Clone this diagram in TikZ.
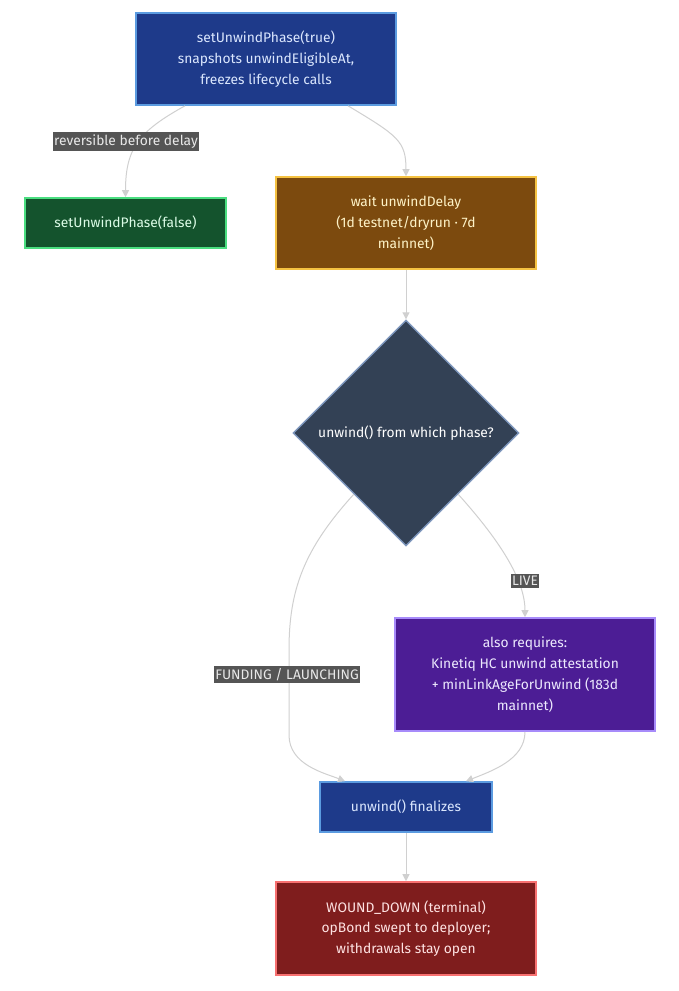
\documentclass[tikz,border=0pt]{standalone}
\usepackage{fontspec}
\setmainfont{Fira Sans}
\usetikzlibrary{shapes.geometric,arrows.meta,calc}
\definecolor{edgecol}{HTML}{D0D0D0}
\definecolor{lblbg}{HTML}{555555}
\definecolor{lbltx}{HTML}{E8E8E8}
\definecolor{HTML1E3A8A}{HTML}{1E3A8A}
\definecolor{HTML5B9BE0}{HTML}{5B9BE0}
\definecolor{HTMLDBE7FE}{HTML}{DBE7FE}
\definecolor{HTML14532D}{HTML}{14532D}
\definecolor{HTML4ADE80}{HTML}{4ADE80}
\definecolor{HTMLDCFCE7}{HTML}{DCFCE7}
\definecolor{HTML7C4A0E}{HTML}{7C4A0E}
\definecolor{HTMLF5C242}{HTML}{F5C242}
\definecolor{HTMLFEF3C7}{HTML}{FEF3C7}
\definecolor{HTML4C1D95}{HTML}{4C1D95}
\definecolor{HTMLA78BFA}{HTML}{A78BFA}
\definecolor{HTMLEDE9FE}{HTML}{EDE9FE}
\definecolor{HTML7F1D1D}{HTML}{7F1D1D}
\definecolor{HTMLF87171}{HTML}{F87171}
\definecolor{HTMLFEE2E2}{HTML}{FEE2E2}
\definecolor{HTML334155}{HTML}{334155}
\definecolor{HTML7E97BD}{HTML}{7E97BD}
\tikzset{
  base/.style={draw, line width=1.6pt, align=center, inner sep=0pt,
    font=\fontsize{13.8}{20.8}\selectfont},
  bluebox/.style={base, fill=HTML1E3A8A, draw=HTML5B9BE0, text=HTMLDBE7FE},
  greenbox/.style={base, fill=HTML14532D, draw=HTML4ADE80, text=HTMLDCFCE7},
  brownbox/.style={base, fill=HTML7C4A0E, draw=HTMLF5C242, text=HTMLFEF3C7},
  purplebox/.style={base, fill=HTML4C1D95, draw=HTMLA78BFA, text=HTMLEDE9FE},
  redbox/.style={base, fill=HTML7F1D1D, draw=HTMLF87171, text=HTMLFEE2E2},
  decision/.style={base, diamond, aspect=1, fill=HTML334155, draw=HTML7E97BD,
    text=white, minimum width=226pt, minimum height=226pt, line width=1.4pt},
  edgelbl/.style={fill=lblbg, text=lbltx, inner xsep=1pt, inner ysep=2.5pt,
    font=\fontsize{13.8}{15}\selectfont},
  conn/.style={draw=edgecol, line width=1pt, -{Triangle[length=7pt,width=7pt]}},
}
\begin{document}
\begin{tikzpicture}[x=1pt,y=-1pt]
\useasboundingbox[fill=white] (0,0) rectangle (679,991);

\node[bluebox, minimum width=260pt, minimum height=92pt] (A) at (266,59)
  {setUnwindPhase(true)\\snapshots unwindEligibleAt,\\freezes lifecycle calls};
\node[greenbox, minimum width=201pt, minimum height=50pt] (B) at (125.5,223)
  {setUnwindPhase(false)};
\node[brownbox, minimum width=260pt, minimum height=92pt] (C) at (406,223)
  {wait unwindDelay\\(1d testnet/dryrun · 7d\\mainnet)};
\node[decision] (D) at (406,433) {unwind() from which phase?};
\node[purplebox, minimum width=260pt, minimum height=113pt] (E) at (525,674.5)
  {also requires:\\Kinetiq HC unwind attestation\\+ minLinkAgeForUnwind (183d\\mainnet)};
\node[bluebox, minimum width=172pt, minimum height=50pt] (F) at (406,807)
  {unwind() finalizes};
\node[redbox, minimum width=260pt, minimum height=93pt] (G) at (406,928.5)
  {WOUND\_DOWN (terminal)\\opBond swept to deployer;\\withdrawals stay open};

% edges
\draw[conn] ([xshift=-81pt]A.south) .. controls +(-45,25) and +(0,-50) .. (B.north);
\draw[conn] ([xshift=82pt]A.south) .. controls +(50,30) and +(0,-35) .. (C.north);
\draw[conn] (C.south) -- (D.north);
\draw[conn] ($(D.south)!0.46!(D.west)$) .. controls +(-50,55) and +(0,-60) .. (289,650)
  -- (289,735) .. controls +(0,30) and +(-20,-8) .. ([xshift=-61pt]F.north);
\draw[conn] ($(D.south)!0.46!(D.east)$) .. controls +(45,50) and +(0,-35) .. (E.north);
\draw[conn] (E.south) .. controls +(0,28) and +(25,-10) .. ([xshift=60pt]F.north);
\draw[conn] (F.south) -- (G.north);

% labels
\node[edgelbl] (L1) at (126,141.5) {reversible before delay};
\node[edgelbl] (L2) at (287,674.5) {FUNDING / LAUNCHING};
\node[edgelbl] (L3) at (525,581) {LIVE};
\end{tikzpicture}
\end{document}
